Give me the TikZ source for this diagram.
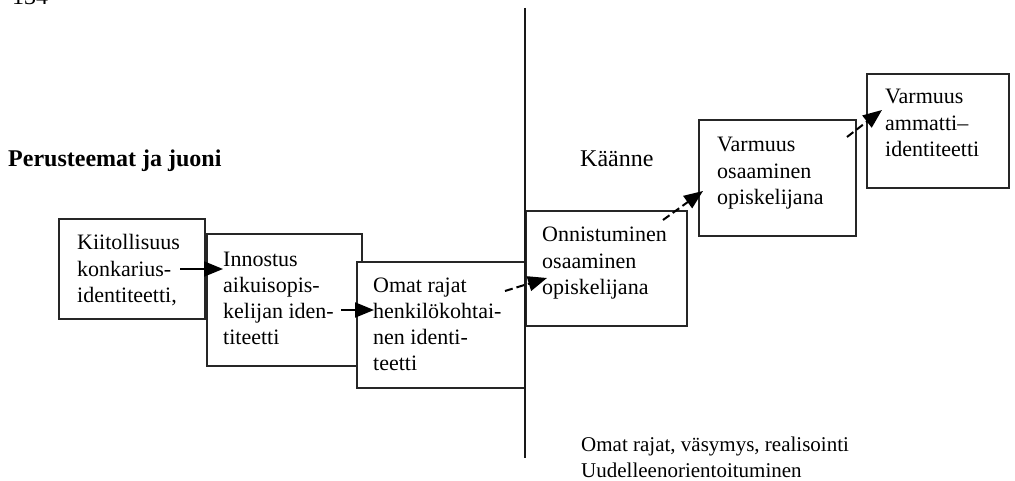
\documentclass[tikz,border=0pt]{standalone}
\usepackage{fontspec}
\setmainfont{Liberation Serif}
\usetikzlibrary{arrows.meta}

% left-aligned block whose reference point is the baseline of its first line
\newcommand\stack[1]{\begin{tabular}[t]{@{}l@{}}#1\end{tabular}}

\begin{document}
\begin{tikzpicture}[x=1pt,y=-1pt,
  stepbox/.style={draw=black!85, line width=2pt, fill=white, rectangle, inner sep=0pt},
  boxtext/.style={anchor=base west, inner sep=0pt, font=\fontsize{22}{26.3}\selectfont},
  plain/.style={anchor=base west, inner sep=0pt, font=\fontsize{21}{26}\selectfont},
  link/.style={line width=2pt, -{Triangle[length=19pt,width=15pt]}},
  dlink/.style={link, dash pattern=on 8pt off 4pt}]

\useasboundingbox (0,0) rectangle (1015,481);

% page number at the top edge
\node[plain, font=\fontsize{24}{26}\selectfont] (page) at (12,5) {134};

% headings
\node[plain, font=\fontsize{24}{26}\selectfont\bfseries] (theme) at (8,167) {Perusteemat ja juoni};
\node[plain, font=\fontsize{24}{26}\selectfont] (turn) at (580,167) {Käänne};
\node[plain] (after) at (581,451) {\stack{Omat rajat, väsymys, realisointi\\Uudelleenorientoituminen}};

% the steps
\node[stepbox, minimum width=146pt, minimum height=100pt] (b1) at (132,269) {};
\node[stepbox, minimum width=155pt, minimum height=132pt] (b2) at (284.5,300) {};
\node[stepbox, minimum width=168pt, minimum height=126pt] (b3) at (441,325) {};
\node[stepbox, minimum width=161pt, minimum height=115pt] (b4) at (606.5,268.5) {};
\node[stepbox, minimum width=157pt, minimum height=116pt] (b5) at (777.5,178) {};
\node[stepbox, minimum width=142pt, minimum height=114pt] (b6) at (938,131) {};

\node[boxtext] (t1) at (77,250) {\stack{Kiitollisuus\\konkarius-\\identiteetti,}};
\node[boxtext] (t2) at (223,266) {\stack{Innostus\\aikuisopis-\\kelijan iden-\\titeetti}};
\node[boxtext] (t3) at (373,292) {\stack{Omat rajat\\henkilökohtai-\\nen identi-\\teetti}};
\node[boxtext] (t4) at (542,242) {\stack{Onnistuminen\\osaaminen\\opiskelijana}};
\node[boxtext] (t5) at (717,152) {\stack{Varmuus\\osaaminen\\opiskelijana}};
\node[boxtext] (t6) at (885,104) {\stack{Varmuus\\ammatti–\\identiteetti}};

% dividing line
\coordinate (top) at (525,8);
\coordinate (bottom) at (525,458);
\draw[line width=2.5pt, black!90] (top) -- (bottom);

% connectors between the steps
\coordinate (s1) at (180,269);  \coordinate (e1) at (223,269);
\coordinate (s2) at (341,310);  \coordinate (e2) at (374,310);
\coordinate (s3) at (505,291);  \coordinate (e3) at (547,278);
\coordinate (s4) at (663,220);  \coordinate (e4) at (703,191);
\coordinate (s5) at (847,137);  \coordinate (e5) at (882,110);
\draw[link] (s1) -- (e1);
\draw[link] (s2) -- (e2);
\draw[dlink] (s3) -- (e3);
\draw[dlink] (s4) -- (e4);
\draw[dlink] (s5) -- (e5);
\end{tikzpicture}
\end{document}
